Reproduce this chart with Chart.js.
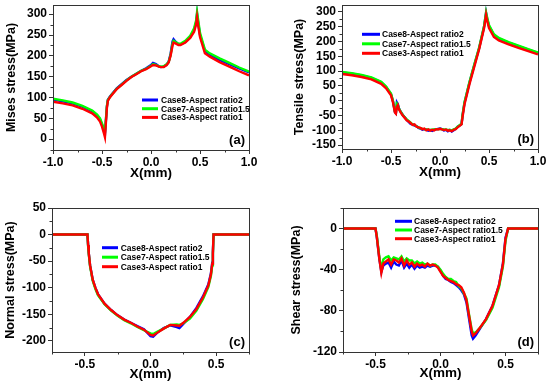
<!DOCTYPE html>
<html><head><meta charset="utf-8">
<script src="https://cdn.jsdelivr.net/npm/chart.js@4/dist/chart.umd.min.js"></script>
<style>
html,body{margin:0;padding:0;background:#fff;}
#wrap{position:relative;width:550px;height:386px;overflow:hidden;}
.p{position:absolute;width:275px;height:193px;}
canvas{display:block;}
</style></head><body>
<div id="wrap">
<div class="p" style="left:0;top:0"><canvas id="ca" width="275" height="193"></canvas></div>
<div class="p" style="left:275px;top:0"><canvas id="cb" width="275" height="193"></canvas></div>
<div class="p" style="left:0;top:193px"><canvas id="cc" width="275" height="193"></canvas></div>
<div class="p" style="left:275px;top:193px"><canvas id="cd" width="275" height="193"></canvas></div>
</div>
<script>
// ---------------- DATA ----------------
const seriesNames = ['Case8-Aspect ratio2', 'Case7-Aspect ratio1.5', 'Case3-Aspect ratio1'];
const xTitle = 'X(mm)';
const yTitles = ['Mises stress(MPa)', 'Tensile stress(MPa)', 'Normal stress(MPa)', 'Shear stress(MPa)'];
const panelTags = ['(a)', '(b)', '(c)', '(d)'];

const xTicksWide = [-1.0, -0.5, 0.0, 0.5, 1.0];
const xTicksNarrow = [-0.5, 0.0, 0.5];
const yTicksA = [0, 50, 100, 150, 200, 250, 300];
const yTicksB = [-150, -100, -50, 0, 50, 100, 150, 200, 250, 300];
const yTicksC = [-200, -150, -100, -50, 0, 50];
const yTicksD = [-120, -80, -40, 0];

// (a) Mises stress
const xA = [-1.0,-0.9,-0.8,-0.7,-0.6,-0.55,-0.52,-0.5,-0.48,-0.47,
  -0.46,-0.45,-0.44,-0.42,-0.4,-0.35,-0.3,-0.25,-0.2,-0.15,
  -0.1,-0.05,0,0.02,0.05,0.08,0.1,0.13,0.16,0.18,
  0.2,0.22,0.23,0.25,0.28,0.3,0.35,0.4,0.44,0.46,
  0.47,0.48,0.5,0.55,0.6,0.7,0.8,0.9,1.0];
const misesCase8 = [95,91,86,78,67,57,47,35,20,12,
  45,78,95,102,108,122,132,142,150,157,
  164,170,178,183,180,175,173,174,179,186,
  205,235,240,234,228,227,233,245,262,280,
  300,282,250,212,203,190,180,170,160];
const misesCase7 = [97,93,88,80,69,59,50,38,24,18,
  48,80,94,101,107,121,131,141,150,157,
  164,169,176,180,178,175,174,175,180,185,
  202,230,236,233,229,229,236,248,266,285,
  305,288,255,215,206,194,183,172,162];
const misesCase3 = [90,86,81,73,62,52,42,30,14,5,
  40,75,92,100,106,120,130,140,149,156,
  163,168,175,178,177,174,173,173,178,184,
  200,225,232,230,226,226,232,243,258,275,
  293,275,245,206,198,185,174,163,153];

// (b) Tensile stress
const xB = [-1.0,-0.9,-0.8,-0.7,-0.6,-0.55,-0.5,-0.48,-0.46,-0.45,
  -0.44,-0.43,-0.42,-0.40,-0.38,-0.36,-0.34,-0.32,-0.30,-0.28,
  -0.26,-0.24,-0.22,-0.20,-0.18,-0.16,-0.14,-0.12,-0.10,-0.08,
  -0.06,-0.04,-0.02,0.0,0.02,0.04,0.06,0.08,0.10,0.12,
  0.14,0.16,0.18,0.20,0.22,0.23,0.25,0.30,0.35,0.40,
  0.45,0.47,0.48,0.50,0.55,0.60,0.70,0.80,0.90,1.0];
const tensileCase8 = [95,91,85,77,62,46,22,-2,-38,-42,
  -6,-12,-25,-38,-48,-56,-64,-72,-78,-80,
  -84,-86,-92,-94,-98,-96,-98,-101,-99,-102,
  -98,-97,-95,-94,-96,-100,-98,-103,-99,-104,
  -100,-95,-88,-84,-78,-50,-8,60,120,178,
  250,296,278,252,222,210,196,184,172,161];
const tensileCase7 = [97,93,87,79,64,48,24,0,-36,-40,
  -10,-14,-26,-38,-48,-56,-63,-68,-74,-80,
  -82,-86,-90,-93,-95,-96,-97,-98,-99,-98,
  -97,-96,-96,-95,-96,-97,-98,-99,-99,-100,
  -97,-94,-88,-83,-78,-48,-5,62,122,180,
  252,298,282,255,224,212,198,186,174,163];
const tensileCase3 = [90,86,80,72,57,42,18,-5,-40,-44,
  -20,-15,-28,-40,-50,-58,-66,-70,-75,-82,
  -80,-88,-90,-92,-96,-94,-100,-97,-101,-98,
  -100,-96,-97,-95,-97,-99,-97,-101,-100,-103,
  -98,-96,-90,-85,-80,-55,-12,55,115,175,
  245,290,272,245,215,203,190,178,167,156];

// (c) Normal stress
const xC = [-0.75,-0.48,-0.475,-0.47,-0.46,-0.44,-0.42,-0.4,-0.35,-0.3,
  -0.25,-0.2,-0.15,-0.1,-0.05,0.0,0.02,0.05,0.1,0.15,
  0.2,0.22,0.25,0.3,0.35,0.4,0.44,0.46,0.47,0.475,
  0.48,0.75];
const normalCase8 = [0,0,-20,-35,-58,-85,-100,-112,-130,-142,
  -152,-160,-166,-172,-178,-191,-192,-185,-176,-171,
  -174,-176,-168,-155,-138,-116,-94,-73,-53,-33,
  0,0];
const normalCase7 = [0,0,-22,-37,-60,-87,-102,-114,-131,-143,
  -153,-161,-167,-174,-180,-186,-187,-183,-177,-170,
  -169,-170,-167,-158,-143,-121,-99,-78,-58,-38,
  0,0];
const normalCase3 = [0,0,-20,-35,-58,-85,-100,-112,-130,-142,
  -152,-160,-166,-173,-179,-189,-190,-185,-177,-170,
  -171,-172,-166,-155,-140,-118,-96,-75,-55,-35,
  0,0];

// (d) Shear stress
const xD = [-0.75,-0.5,-0.49,-0.47,-0.455,-0.44,-0.42,-0.40,-0.38,-0.36,
  -0.34,-0.32,-0.30,-0.28,-0.26,-0.24,-0.22,-0.20,-0.18,-0.16,
  -0.14,-0.12,-0.10,-0.08,-0.06,-0.04,-0.02,0.0,0.02,0.04,
  0.06,0.08,0.10,0.12,0.14,0.16,0.18,0.20,0.22,0.24,
  0.25,0.27,0.30,0.35,0.40,0.45,0.48,0.50,0.52,0.75];
const shearCase8 = [0,0,-8,-30,-42,-36,-34,-33,-38,-32,
  -35,-36,-31,-38,-34,-38,-35,-39,-36,-38,
  -37,-38,-36,-37,-36,-36,-37,-41,-46,-49,
  -50,-52,-53,-55,-57,-60,-64,-72,-88,-104,
  -107,-104,-98,-88,-75,-55,-34,-9,0,0];
const shearCase7 = [0,0,-7,-28,-40,-30,-28,-27,-31,-28,
  -29,-30,-27,-32,-29,-31,-31,-34,-32,-34,
  -33,-35,-34,-36,-35,-35,-37,-40,-44,-47,
  -49,-49,-51,-52,-56,-58,-63,-68,-84,-98,
  -102,-101,-97,-89,-77,-57,-37,-12,0,0];
const shearCase3 = [0,0,-8,-30,-43,-34,-32,-30,-35,-30,
  -31,-33,-29,-36,-31,-35,-33,-37,-34,-36,
  -35,-37,-34,-36,-35,-36,-38,-42,-46,-48,
  -50,-51,-52,-54,-55,-57,-62,-70,-85,-100,
  -104,-102,-97,-88,-75,-55,-35,-10,0,0];

// ---------------- STYLE ----------------
const seriesColors = ['#0000ff', '#00ff00', '#ff0000'];
const FONT = "'Liberation Sans', Arial, sans-serif";
const AXIS_COLOR = '#333333';

function minors(ticks, min, max) {
  const step = ticks[1] - ticks[0];
  const out = [];
  for (let v = ticks[0] - step / 2 - step * 2; v <= max + 1e-9; v += step / 2) {
    if (v < min - 1e-9) continue;
    if (ticks.some(t => Math.abs(t - v) < 1e-9)) continue;
    if (Math.abs(((v - ticks[0]) / step) % 1) < 1e-6) continue;
    out.push(v);
  }
  return out;
}

const framePlugin = {
  id: 'frame',
  afterDraw(chart, args, o) {
    const {ctx, chartArea: a, scales} = chart;
    ctx.save();
    ctx.strokeStyle = AXIS_COLOR;
    ctx.lineWidth = 1;
    ctx.strokeRect(Math.round(a.left) + 0.5, Math.round(a.top) + 0.5,
      Math.round(a.right) - Math.round(a.left), Math.round(a.bottom) - Math.round(a.top));
    ctx.beginPath();
    o.xMinor.forEach(v => {
      const px = Math.round(scales.x.getPixelForValue(v)) + 0.5;
      ctx.moveTo(px, Math.round(a.bottom)); ctx.lineTo(px, Math.round(a.bottom) + 2.5);
    });
    o.yMinor.forEach(v => {
      const py = Math.round(scales.y.getPixelForValue(v)) + 0.5;
      ctx.moveTo(Math.round(a.left), py); ctx.lineTo(Math.round(a.left) - 2.5, py);
    });
    ctx.stroke();
    // legend
    const L = o.legend;
    ctx.font = 'bold 8.5px ' + FONT;
    ctx.textBaseline = 'middle';
    ctx.textAlign = 'left';
    chart.data.datasets.forEach((ds, i) => {
      const y = L.y0 + i * L.dy;
      ctx.strokeStyle = ds.borderColor;
      ctx.lineWidth = 3;
      ctx.beginPath(); ctx.moveTo(L.x0, y); ctx.lineTo(L.x1, y); ctx.stroke();
      ctx.fillStyle = '#000';
      ctx.fillText(ds.label, L.tx, y + 0.5);
    });
    // panel tag
    ctx.font = 'bold 13px ' + FONT;
    ctx.textAlign = 'right';
    ctx.fillStyle = '#000';
    ctx.fillText(o.tag, a.right - 4, a.bottom - 9.5);
    ctx.restore();
  }
};

function buildChart(id, d) {
  const canvas = document.getElementById(id);
  const W = canvas.width, H = canvas.height;
  const [aL, aT, aR, aB] = d.area;
  const datasets = d.ys.map((ys, i) => ({
    label: seriesNames[i],
    data: d.x.map((xv, k) => ({x: xv, y: ys[k]})),
    borderColor: seriesColors[i],
    backgroundColor: seriesColors[i],
    borderWidth: 2.4,
    pointRadius: 0,
    tension: 0,
    fill: false,
    order: 2 - i
  }));
  const tickFont = {family: FONT, size: 12, weight: 'bold'};
  new Chart(canvas, {
    type: 'line',
    data: {datasets},
    plugins: [framePlugin],
    options: {
      responsive: false,
      animation: false,
      events: [],
      devicePixelRatio: 1,
      layout: {padding: {left: 0, top: aT, right: W - aR, bottom: 0}},
      plugins: {
        legend: {display: false},
        tooltip: {enabled: false},
        frame: {
          xMinor: minors(d.xTicks, d.xMin, d.xMax),
          yMinor: minors(d.yTicks, d.yMin, d.yMax),
          legend: d.legend,
          tag: d.tag
        }
      },
      scales: {
        x: {
          type: 'linear', min: d.xMin, max: d.xMax,
          afterBuildTicks: s => { s.ticks = d.xTicks.map(v => ({value: v})); },
          afterFit: s => { s.height = H - aB; s.paddingLeft = 0; s.paddingRight = 0; },
          ticks: {font: tickFont, color: '#000', padding: 1, maxRotation: 0, autoSkip: false,
                  callback: v => Number(v).toFixed(1)},
          grid: {drawOnChartArea: false, drawTicks: true, tickLength: 4, color: AXIS_COLOR, lineWidth: 1},
          border: {display: false},
          title: {display: true, text: xTitle, color: '#000',
                  font: {family: FONT, size: 13.5, weight: 'bold'},
                  padding: {top: 0, bottom: d.xTitlePad}}
        },
        y: {
          type: 'linear', min: d.yMin, max: d.yMax,
          afterBuildTicks: s => { s.ticks = d.yTicks.map(v => ({value: v})); },
          afterFit: s => { s.width = aL; s.paddingTop = 0; s.paddingBottom = 0; },
          ticks: {font: tickFont, color: '#000', padding: 2, autoSkip: false,
                  callback: v => String(v)},
          grid: {drawOnChartArea: false, drawTicks: true, tickLength: 4, color: AXIS_COLOR, lineWidth: 1},
          border: {display: false},
          title: {display: true, text: d.yTitle, color: '#000',
                  font: {family: FONT, size: 12.5, weight: 'bold'},
                  padding: {top: d.yTitlePad, bottom: 0}}
        }
      }
    }
  });
}

buildChart('ca', {
  x: xA, ys: [misesCase8, misesCase7, misesCase3],
  xMin: -1, xMax: 1, xTicks: xTicksWide,
  yMin: -26, yMax: 322, yTicks: yTicksA,
  area: [53, 5, 249, 150], xTitlePad: 12, yTitlePad: 4.5,
  yTitle: yTitles[0], tag: panelTags[0],
  legend: {x0: 142, x1: 158, tx: 161, y0: 100, dy: 8.7}
});
buildChart('cb', {
  x: xB, ys: [tensileCase8, tensileCase7, tensileCase3],
  xMin: -1, xMax: 1, xTicks: xTicksWide,
  yMin: -163, yMax: 323, yTicks: yTicksB,
  area: [67, 5, 263, 149], xTitlePad: 13, yTitlePad: 17,
  yTitle: yTitles[1], tag: panelTags[1],
  legend: {x0: 87, x1: 105, tx: 107, y0: 34.3, dy: 9.5}
});
buildChart('cc', {
  x: xC, ys: [normalCase8, normalCase7, normalCase3],
  xMin: -0.75, xMax: 0.75, xTicks: xTicksNarrow,
  yMin: -221, yMax: 50, yTicks: yTicksC,
  area: [52, 15, 249, 159], xTitlePad: 3.5, yTitlePad: 3.5,
  yTitle: yTitles[2], tag: panelTags[2],
  legend: {x0: 102, x1: 118, tx: 120.7, y0: 54.7, dy: 9.5}
});
buildChart('cd', {
  x: xD, ys: [shearCase8, shearCase7, shearCase3],
  xMin: -0.75, xMax: 0.75, xTicks: xTicksNarrow,
  yMin: -120, yMax: 20, yTicks: yTicksD,
  area: [68, 15, 263, 159], xTitlePad: 5, yTitlePad: 14,
  yTitle: yTitles[3], tag: panelTags[3],
  legend: {x0: 120, x1: 137, tx: 139, y0: 28.3, dy: 8.7}
});
</script>
</body></html>
